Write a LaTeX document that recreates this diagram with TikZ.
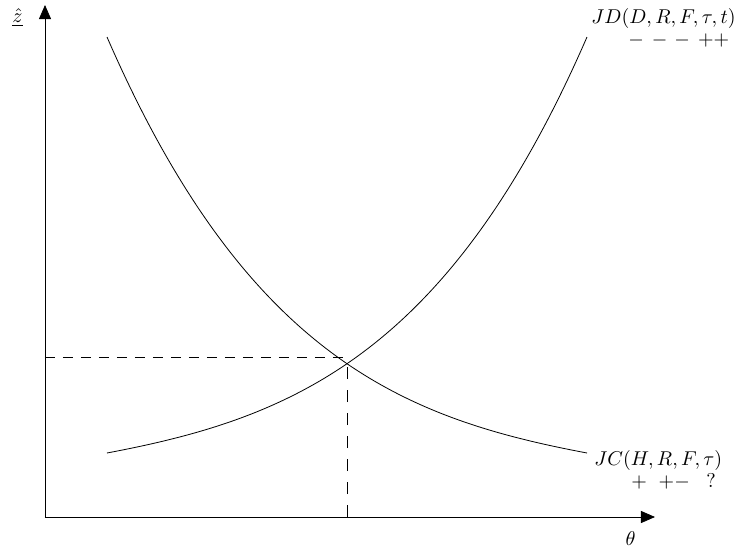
\documentclass[tikz,border=0pt]{standalone}
\usetikzlibrary{arrows.meta}
\begin{document}
\begin{tikzpicture}[x=0.5pt,y=-0.5pt,
  axis/.style={-{Triangle[length=7pt,width=6pt]}},
  curve/.style={black},
  guide/.style={dash pattern=on 5pt off 4pt},
  txt/.style={inner sep=0pt},
  lbl/.style={txt,anchor=base west},
  sgn/.style={txt,anchor=base west}]
\useasboundingbox (0,0) rectangle (736,552);
\coordinate (O) at (45,517);
\coordinate (xend) at (655,517);
\coordinate (yend) at (45,5);
\coordinate (I) at (347,357);
% axes
\draw[axis] (O) -- (xend);
\draw[axis] (O) -- (yend);
% curves
\coordinate (jdA) at (107,453);
\coordinate (jdB) at (587,37);
\coordinate (jcA) at (107,37);
\coordinate (jcB) at (587,453);
\draw[curve] (jdA) .. controls (287,419) and (447,359) .. (jdB);
\draw[curve] (jcA) .. controls (247,359) and (407,419) .. (jcB);
% dashed guides
\draw[guide] (I -| O) -- (I);
\draw[guide,dash pattern=on 6pt off 5.5pt] (I |- O) -- (I);
% labels
\node[txt] (zl) at (17.5,18) {$\underline{\hat{z}}$};
\node[txt,anchor=base] (tl) at (630.5,545) {$\theta$};
\node[lbl] (jd) at (591,23) {$JD(D,R,F,\tau,t)$};
\node[sgn] (jds) at (628,45) {$-$\hspace{4pt}$-$\hspace{3.5pt}$-$\hspace{4pt}$++$};
\node[lbl] (jc) at (594,465) {$JC(H,R,F,\tau)$};
\node[sgn] (jcs) at (631,487) {$+$\hspace{5.9pt}$+-$\hspace{8.2pt}?};
\end{tikzpicture}
\end{document}
